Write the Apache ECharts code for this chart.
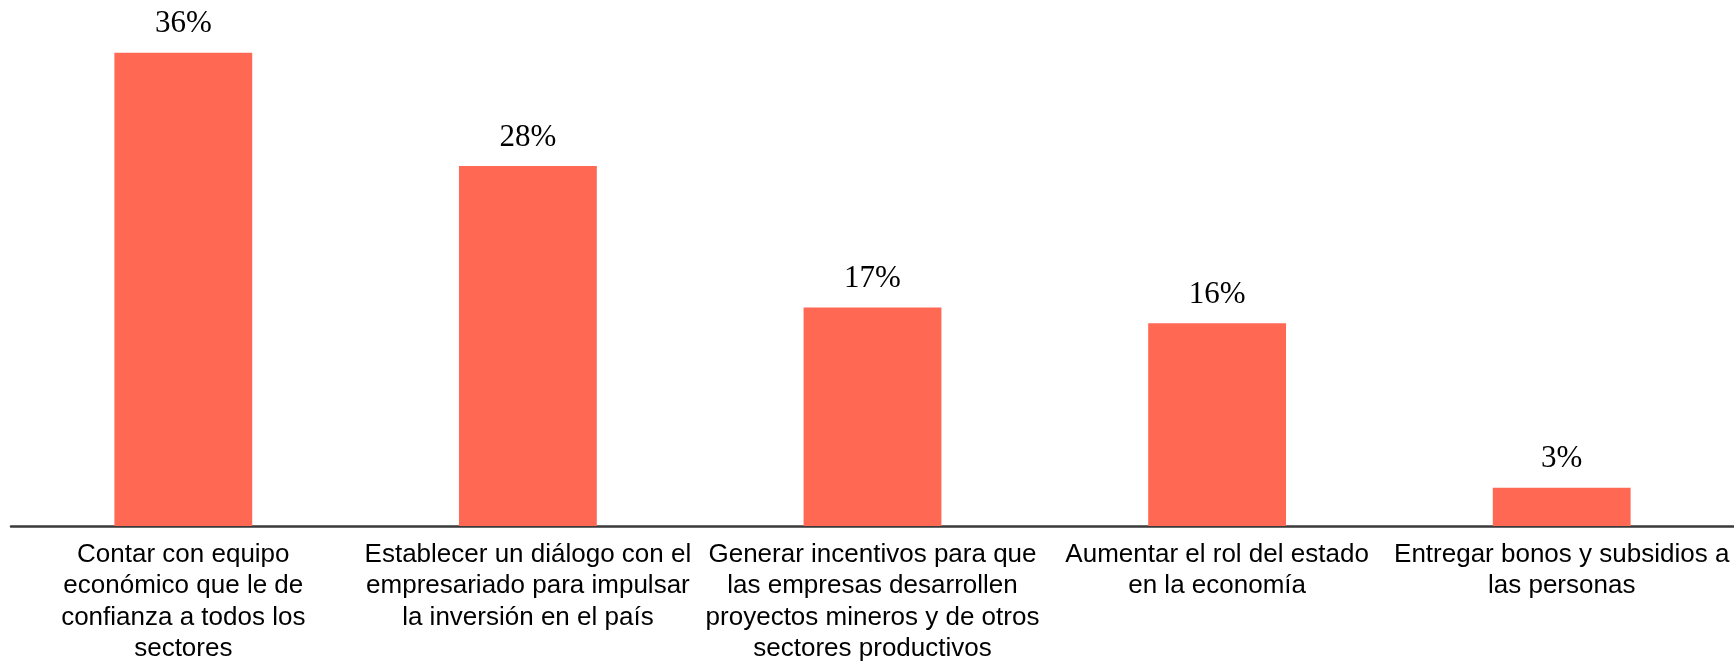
<!DOCTYPE html>
<html>
<head>
<meta charset="utf-8">
<script src="https://cdn.jsdelivr.net/npm/echarts@6/dist/echarts.min.js"></script>
<style>
  html, body { margin: 0; padding: 0; background: #fff; }
  #main { width: 1734px; height: 662px; }
</style>
</head>
<body>
<div id="main"></div>
<script>
// categories as they are wrapped in the picture
const categories = [
  'Contar con equipo\neconómico que le de\nconfianza a todos los\nsectores',
  'Establecer un diálogo con el\nempresariado para impulsar\nla inversión en el país',
  'Generar incentivos para que\nlas empresas desarrollen\nproyectos mineros y de otros\nsectores productivos',
  'Aumentar el rol del estado\nen la economía',
  'Entregar bonos y subsidios a\nlas personas'
];
// shares in percent (labels shown rounded)
const values = [36.4, 27.7, 16.8, 15.6, 2.95];

var chartDom = document.getElementById('main');
var myChart = echarts.init(chartDom);
var option;

option = {
  animation: false,
  grid: {
    left: 11,
    right: 0,
    top: 6,
    bottom: 136,
    containLabel: false,
    outerBoundsMode: 'none'
  },
  xAxis: {
    type: 'category',
    data: categories,
    axisTick: { show: false },
    axisLine: {
      lineStyle: { color: '#3a3a3a', width: 2.5 }
    },
    axisLabel: {
      interval: 0,
      margin: 13,
      color: '#000',
      fontFamily: 'Liberation Sans, Arial, sans-serif',
      fontSize: 26,
      lineHeight: 31.5,
      align: 'center'
    }
  },
  yAxis: {
    type: 'value',
    min: 0,
    max: 40,
    show: false
  },
  series: [
    {
      type: 'bar',
      data: values,
      barCategoryGap: '60%',
      itemStyle: { color: '#ff6954' },
      label: {
        show: true,
        position: 'top',
        distance: 13,
        color: '#000',
        fontFamily: 'Liberation Serif, Times New Roman, serif',
        fontSize: 31,
        formatter: function (p) {
          return Math.round(p.value) + '%';
        }
      }
    }
  ]
};

option && myChart.setOption(option);
</script>
</body>
</html>
